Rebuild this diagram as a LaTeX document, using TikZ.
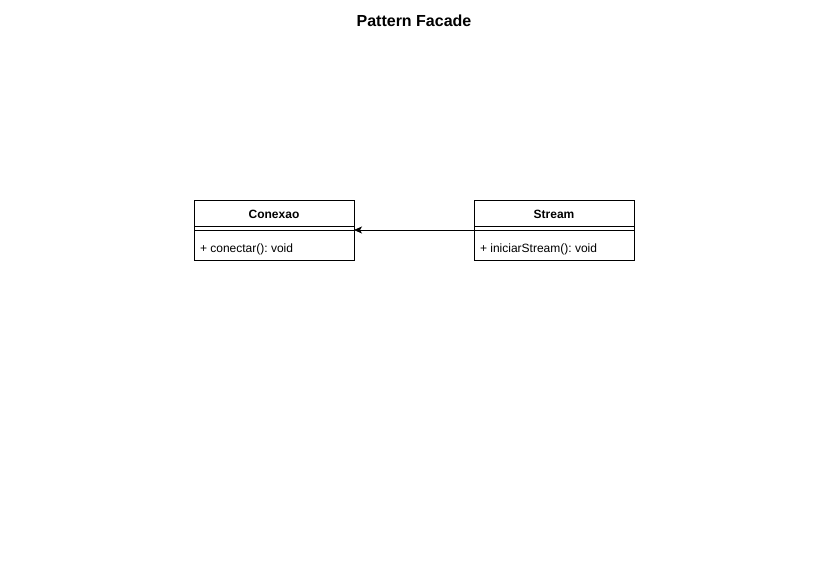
\documentclass[tikz,border=0pt]{standalone}
\usepackage{fontspec}
\setmainfont{Liberation Sans}
\usetikzlibrary{arrows.meta}
\frenchspacing
\begin{document}
\begin{tikzpicture}[x=1pt,y=-1pt,
  box/.style={draw,line width=0.8pt,minimum width=160pt,minimum height=60pt,inner sep=0pt,anchor=north west},
  hdr/.style={font=\bfseries\fontsize{12}{14}\selectfont},
  meth/.style={font=\frenchspacing\fontsize{12}{14}\selectfont,anchor=west},
  sep/.style={line width=0.8pt}]
\useasboundingbox (0,0) rectangle (827,583);
\node[font=\bfseries\fontsize{16}{19}\selectfont] (title) at (414,21) {Pattern Facade};
% Conexao
\node[box] (c) at (194,200) {};
\node[hdr] (ch) at (274,214.5) {Conexao};
\draw[sep] (194,226) -- (354,226);
\draw[sep] (194,230) -- (354,230);
\node[meth] (cm) at (196.5,249.5) {+ conectar(): void};
% Stream
\node[box] (s) at (474,200) {};
\node[hdr] (sh) at (554,214.5) {Stream};
\draw[sep] (474,226) -- (634,226);
\draw[sep] (474,230) -- (634,230);
\node[meth] (sm) at (476.5,249.5) {+ iniciarStream(): void};
\coordinate (sa) at (474,230);
\coordinate (ca) at (354,230);
\draw[line width=0.8pt,-{Stealth[length=8pt,width=7pt,inset=2pt]}] (sa) -- (ca);
\end{tikzpicture}
\end{document}
